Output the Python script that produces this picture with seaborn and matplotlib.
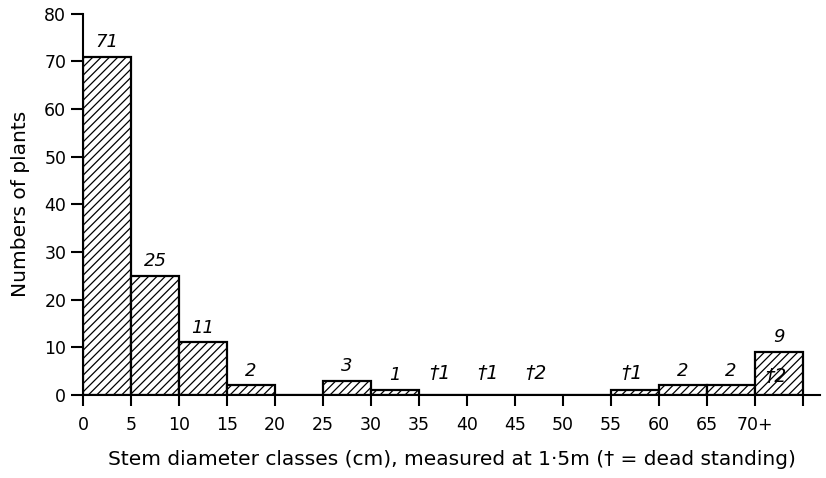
import numpy as np
import pandas as pd
import matplotlib
matplotlib.use("Agg")
import matplotlib.pyplot as plt
import seaborn as sns

# Data
class_starts = [0, 5, 10, 15, 20, 25, 30, 35, 40, 45, 50, 55, 60, 65, 70]
counts = [71, 25, 11, 2, 0, 3, 1, 0, 0, 0, 0, 1, 2, 2, 9]
count_labels = ["71", "25", "11", "2", "", "3", "1", "", "", "", "", "", "2", "2", "9"]
dead_labels = ["", "", "", "", "", "", "", "†1", "†1", "†2", "", "†1", "", "", "†2"]
tick_labels = ["0", "5", "10", "15", "20", "25", "30", "35", "40", "45", "50",
               "55", "60", "65", "70+", ""]

sns.set_style("ticks")
plt.rcParams['font.family'] = ['DejaVu Sans']
plt.rcParams['hatch.linewidth'] = 0.9
for k in ("text.color", "axes.labelcolor", "xtick.color", "ytick.color", "axes.edgecolor"):
    plt.rcParams[k] = "black"

df = pd.DataFrame({"start": class_starts, "count": counts})
df["mid"] = df["start"] + 2.5

fig = plt.figure(figsize=(8.26, 4.78), dpi=100)
ax = fig.add_axes([0.1005, 0.174, 0.8925, 0.797])

sns.histplot(data=df, x="mid", weights="count", binwidth=5, binrange=(0, 75),
             color="white", edgecolor="black", linewidth=1.6, hatch="////",
             alpha=1, ax=ax, legend=False)

ax.set_xlim(0, 76.8)
ax.set_ylim(0, 80)
ax.set_xticks(np.arange(0, 80, 5))
ax.set_xticklabels(tick_labels, fontsize=12.5)
ax.set_yticks(np.arange(0, 90, 10))
ax.set_yticklabels([str(v) for v in range(0, 90, 10)], fontsize=12.5)
ax.tick_params(axis="x", direction="out", length=8, width=1.5, pad=7)
ax.tick_params(axis="y", direction="out", length=9, width=1.5, pad=3)
sns.despine(ax=ax)
for s in ("left", "bottom"):
    ax.spines[s].set_linewidth(1.5)

ax.set_xlabel("Stem diameter classes (cm), measured at 1·5m († = dead standing)",
              fontsize=14.5, labelpad=12)
ax.set_ylabel("Numbers of plants", fontsize=14.5, labelpad=10, fontweight="medium")

# count labels above bars
for st, c, lab in zip(class_starts, counts, count_labels):
    if lab:
        ax.text(st + 2.5, c + 1.2, lab, ha="center", va="bottom",
                fontsize=13, style="italic")

# dead-standing labels
for st, c, lab in zip(class_starts, counts, dead_labels):
    if lab:
        if st == 70:
            ax.text(st + 2.2, 3.8, lab, ha="center", va="center",
                    fontsize=13.5, style="italic")
        else:
            ax.text(st + 2.2, 4.4, lab, ha="center", va="center",
                    fontsize=13.5, style="italic")

fig.savefig("out.png", dpi=100)
